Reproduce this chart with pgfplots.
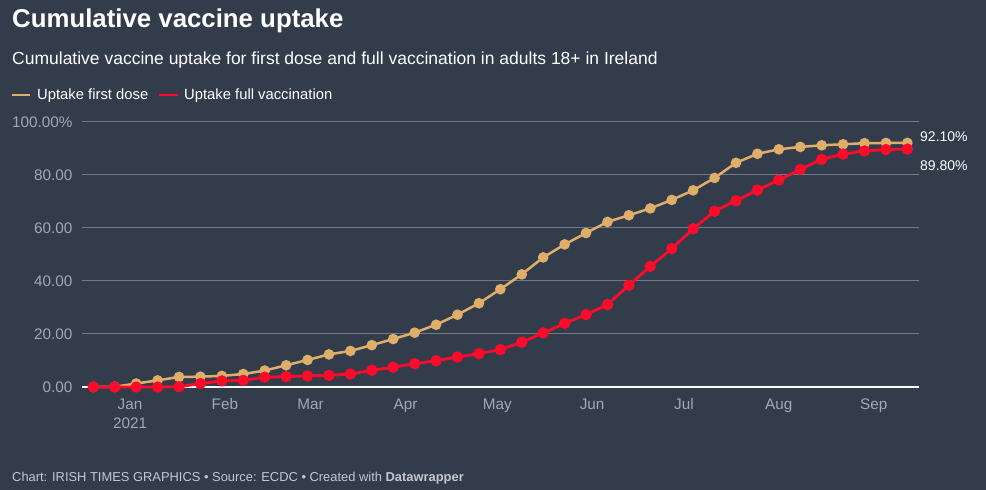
\documentclass[border=0pt]{standalone}
\usepackage{fontspec}
\setmainfont{Liberation Sans}
\usepackage{pgfplots}
\usepackage{pgfplotstable}
\pgfplotsset{compat=1.18}
\definecolor{bg}{HTML}{333C4B}
\definecolor{gridc}{HTML}{737985}
\definecolor{tickc}{HTML}{A4A9B1}
\definecolor{tanc}{HTML}{DFAF69}
\definecolor{vred}{HTML}{FF0A2B}
\definecolor{foot}{HTML}{C4C8CE}

\pgfplotstableread{
x first full
-12 0 0
-5 0.1 0
2 1.3 0
9 2.5 0
16 3.8 0.1
23 3.9 1.3
30 4.2 2.3
37 4.9 2.5
44 6.2 3.7
51 8.2 3.9
58 10.2 4.2
65 12.3 4.4
72 13.6 4.9
79 15.8 6.3
86 18.1 7.5
93 20.5 8.8
100 23.5 9.9
107 27.3 11.3
114 31.6 12.6
121 36.9 14.1
128 42.5 16.9
135 48.9 20.4
142 53.8 24.0
149 58.1 27.3
156 62.3 31.1
163 64.8 38.4
170 67.4 45.5
177 70.6 52.2
184 74.2 59.7
191 78.9 66.3
198 84.6 70.3
205 88.0 74.3
212 89.7 78.1
219 90.6 82.1
226 91.2 85.9
233 91.6 87.9
240 92.0 89.1
247 92.1 89.6
254 92.1 89.8
}\vaccdata

\begin{document}
\begin{tikzpicture}
\fill[bg] (0pt,0pt) rectangle (986pt,490pt);
\useasboundingbox (0pt,0pt) rectangle (986pt,490pt);
\node[anchor=base west, white, font=\fontsize{25.8}{30}\selectfont\bfseries, inner sep=0] at (12pt,462pt) {Cumulative vaccine uptake};
\node[anchor=base west, white, font=\fontsize{17.5}{21}\selectfont, inner sep=0] at (12pt,425pt) {Cumulative vaccine uptake for first dose and full vaccination in adults 18+ in Ireland};
\draw[tanc, line width=2.5pt] (12pt,395pt) -- (30pt,395pt);
\node[anchor=base west, white, font=\fontsize{14.8}{17}\selectfont, inner sep=0] at (37pt,390pt) {Uptake first dose};
\draw[vred, line width=2.5pt] (159pt,395pt) -- (178pt,395pt);
\node[anchor=base west, white, font=\fontsize{14.8}{17}\selectfont, inner sep=0] at (184pt,390pt) {Uptake full vaccination};
\node[anchor=base west, foot, font=\fontsize{12.9}{15}\selectfont, inner sep=0] at (12pt,8pt) {Chart: IRISH TIMES GRAPHICS \textbullet{} Source: ECDC \textbullet{} Created with \textbf{Datawrapper}};
\begin{axis}[
  at={(82pt,103pt)}, anchor=south west,
  scale only axis, width=837pt, height=265pt,
  xmin=-15.7, xmax=257.8, ymin=0, ymax=100,
  axis lines=left,
  x axis line style={white, line width=1.5pt, -},
  y axis line style={draw=none},
  major tick length=0pt,
  ymajorgrids, grid style={gridc, line width=1pt},
  ytick={0,20,40,60,80,100},
  yticklabels={0.00,20.00,40.00,60.00,80.00,100.00\%},
  xtick={0,31,59,90,120,151,181,212,243},
  xticklabels={{Jan\\2021},Feb,Mar,Apr,May,Jun,Jul,Aug,Sep},
  tick label style={tickc, font=\fontsize{15.3}{19.5}\selectfont},
  x tick label style={align=center, yshift=-8pt},
  y tick label style={xshift=-6pt},
  clip=false,
]
\addplot[tanc, line width=2.5pt, mark=*, mark size=4pt, mark options={fill=tanc, draw=tanc}] table[x=x, y=first] {\vaccdata};
\addplot[vred, line width=2.8pt, mark=*, mark size=4.2pt, mark options={fill=vred, draw=vred}] table[x=x, y=full] {\vaccdata};
\node[anchor=west, inner sep=0, xshift=1pt, white, font=\fontsize{14}{17}\selectfont] at (axis cs:257.8,94.3) {92.10\%};
\node[anchor=west, inner sep=0, xshift=1pt, white, font=\fontsize{14}{17}\selectfont] at (axis cs:257.8,83.4) {89.80\%};
\end{axis}
\end{tikzpicture}
\end{document}
